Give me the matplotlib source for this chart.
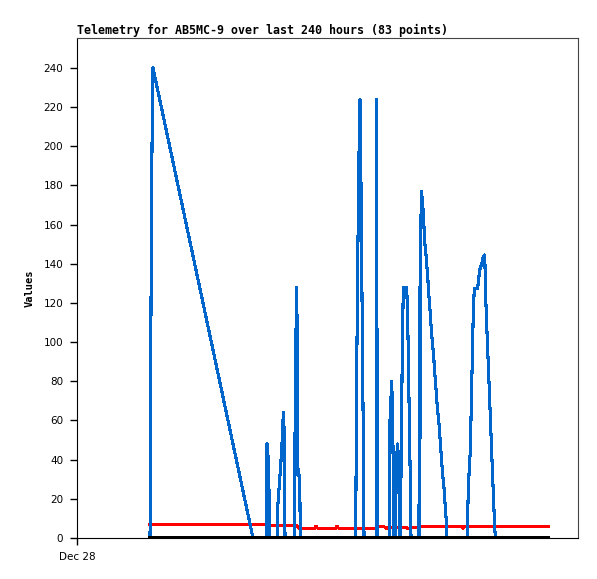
import matplotlib
matplotlib.use("Agg")
import matplotlib.pyplot as plt

# time in hours from the left edge of the axis (Dec 28)
blue_t = [36.5, 36.75, 37, 37.5, 38, 88,
          94.75, 95, 95.5, 95.85, 96.15, 96.5,
          100.15, 100.35, 101.15, 101.85, 102.5, 102.85, 103.35, 103.65, 104,
          108.65, 108.85, 109.35, 109.85, 110.15, 110.5, 111.35, 111.65,
          139.35, 139.5, 139.85, 140.35, 141, 141.5, 141.85, 142.35, 142.85, 143.35, 143.5,
          149.65, 149.85, 150.1,
          156.35, 156.5, 157.35, 157.85, 158.25, 158.5,
          159.15, 159.35, 159.85, 160.35, 160.85, 161.15, 161.5,
          162, 162.65, 163.15, 164.85, 165.35, 165.85, 166.35, 166.85, 167,
          171, 171.15, 171.4, 171.65, 172.15, 172.65, 173.15, 173.85, 174.5, 175,
          175.5, 176, 176.5, 177, 177.5, 178.15, 178.65, 179.15, 179.65, 180.15,
          180.85, 181.35, 181.85, 182.35, 182.85, 183.5, 184, 184.5, 185,
          195.15, 195.35, 195.65, 196.15, 196.65, 197.15, 197.65, 198.15, 198.65,
          200.35, 200.85, 201.35, 202.15, 202.65, 203.15, 203.65, 204, 204.15,
          204.65, 205.15, 205.65, 206.15, 206.65, 207.15, 207.65, 208.15, 208.65, 209.15,
          235.5]
blue_v = [0, 40, 120, 200, 240, 0,
          0, 48, 42, 30, 18, 0,
          0, 16, 27, 37, 48, 58.5, 64, 48, 0,
          0, 32, 96, 128, 96, 32, 32, 0,
          0, 28, 84, 140, 196, 224, 196, 140, 84, 28, 0,
          0, 224, 0,
          0, 60, 80, 60, 21, 0,
          0, 30, 42, 48, 36, 12.6, 0,
          32, 96, 128, 128, 112, 80, 48, 16, 0,
          0, 128, 12, 131, 177, 173, 166, 151, 144.5, 137.7,
          131, 123, 116.4, 108.8, 102, 95, 88, 80.7, 74, 67,
          60, 53.5, 45.8, 39, 32, 25.4, 17.7, 10.9, 0,
          0, 12.6, 23.7, 36.4, 44, 68, 91.8, 115.6, 127.5,
          127.5, 132.6, 136.9, 139.4, 141, 143.7, 144.5, 139.4, 127.5,
          114.8, 101, 88.4, 75.6, 62, 49.2, 35.6, 22.8, 10, 0,
          0]

red_t = [36.5, 94.5, 95.5, 110, 111, 119, 119.5, 120.25, 129.5, 130, 130.75,
         149.5, 150, 153, 154.85, 155.5, 164, 165.5, 167.5, 170, 170.5, 171.5,
         192.5, 193, 193.75, 235.5]
red_v = [7.0, 7.0, 6.2, 6.2, 5.0, 5.0, 6.0, 5.0, 5.0, 6.0, 5.0,
         5.0, 6.1, 6.1, 4.9, 5.5, 5.5, 4.9, 5.5, 5.5, 4.9, 6.1,
         6.1, 4.8, 6.1, 6.1]

black_t = [36.5, 235.5]
black_v = [0, 0]

y_ticks = list(range(0, 241, 20))
x_ticks = [0]
x_labels = ["Dec 28"]

fig = plt.figure(figsize=(5.97, 5.79), dpi=100)
ax = fig.add_axes([77 / 597, 1 - 538 / 579, 501 / 597, 500 / 579])

ax.plot(red_t, red_v, color="#ff0000", lw=1.5, antialiased=False, zorder=2)
ax.plot(blue_t, blue_v, color="#0066cc", lw=1.5, antialiased=False, zorder=3)
# black zero line hides the flat parts of the blue series
ax.plot(black_t, black_v, color="#000000", lw=2.6, antialiased=False, zorder=4)

ax.set_xlim(0, 250.5)
ax.set_ylim(0, 255.3)
ax.set_yticks(y_ticks)
ax.set_xticks(x_ticks)
ax.set_xticklabels(x_labels)
ax.tick_params(axis="both", direction="out", length=5, width=1, labelsize=7.5, pad=5)

for side in ["left", "bottom"]:
    ax.spines[side].set_color("#000000")
for side in ["top", "right"]:
    ax.spines[side].set_color("#444444")

ax.set_title("Telemetry for AB5MC-9 over last 240 hours (83 points)", loc="left",
             fontfamily="DejaVu Sans Mono", fontweight="bold", fontsize=8.35, pad=3)
ax.set_ylabel("Values", fontfamily="DejaVu Sans Mono", fontweight="bold", fontsize=7.5,
              labelpad=6)

fig.savefig("out.png", dpi=100)
